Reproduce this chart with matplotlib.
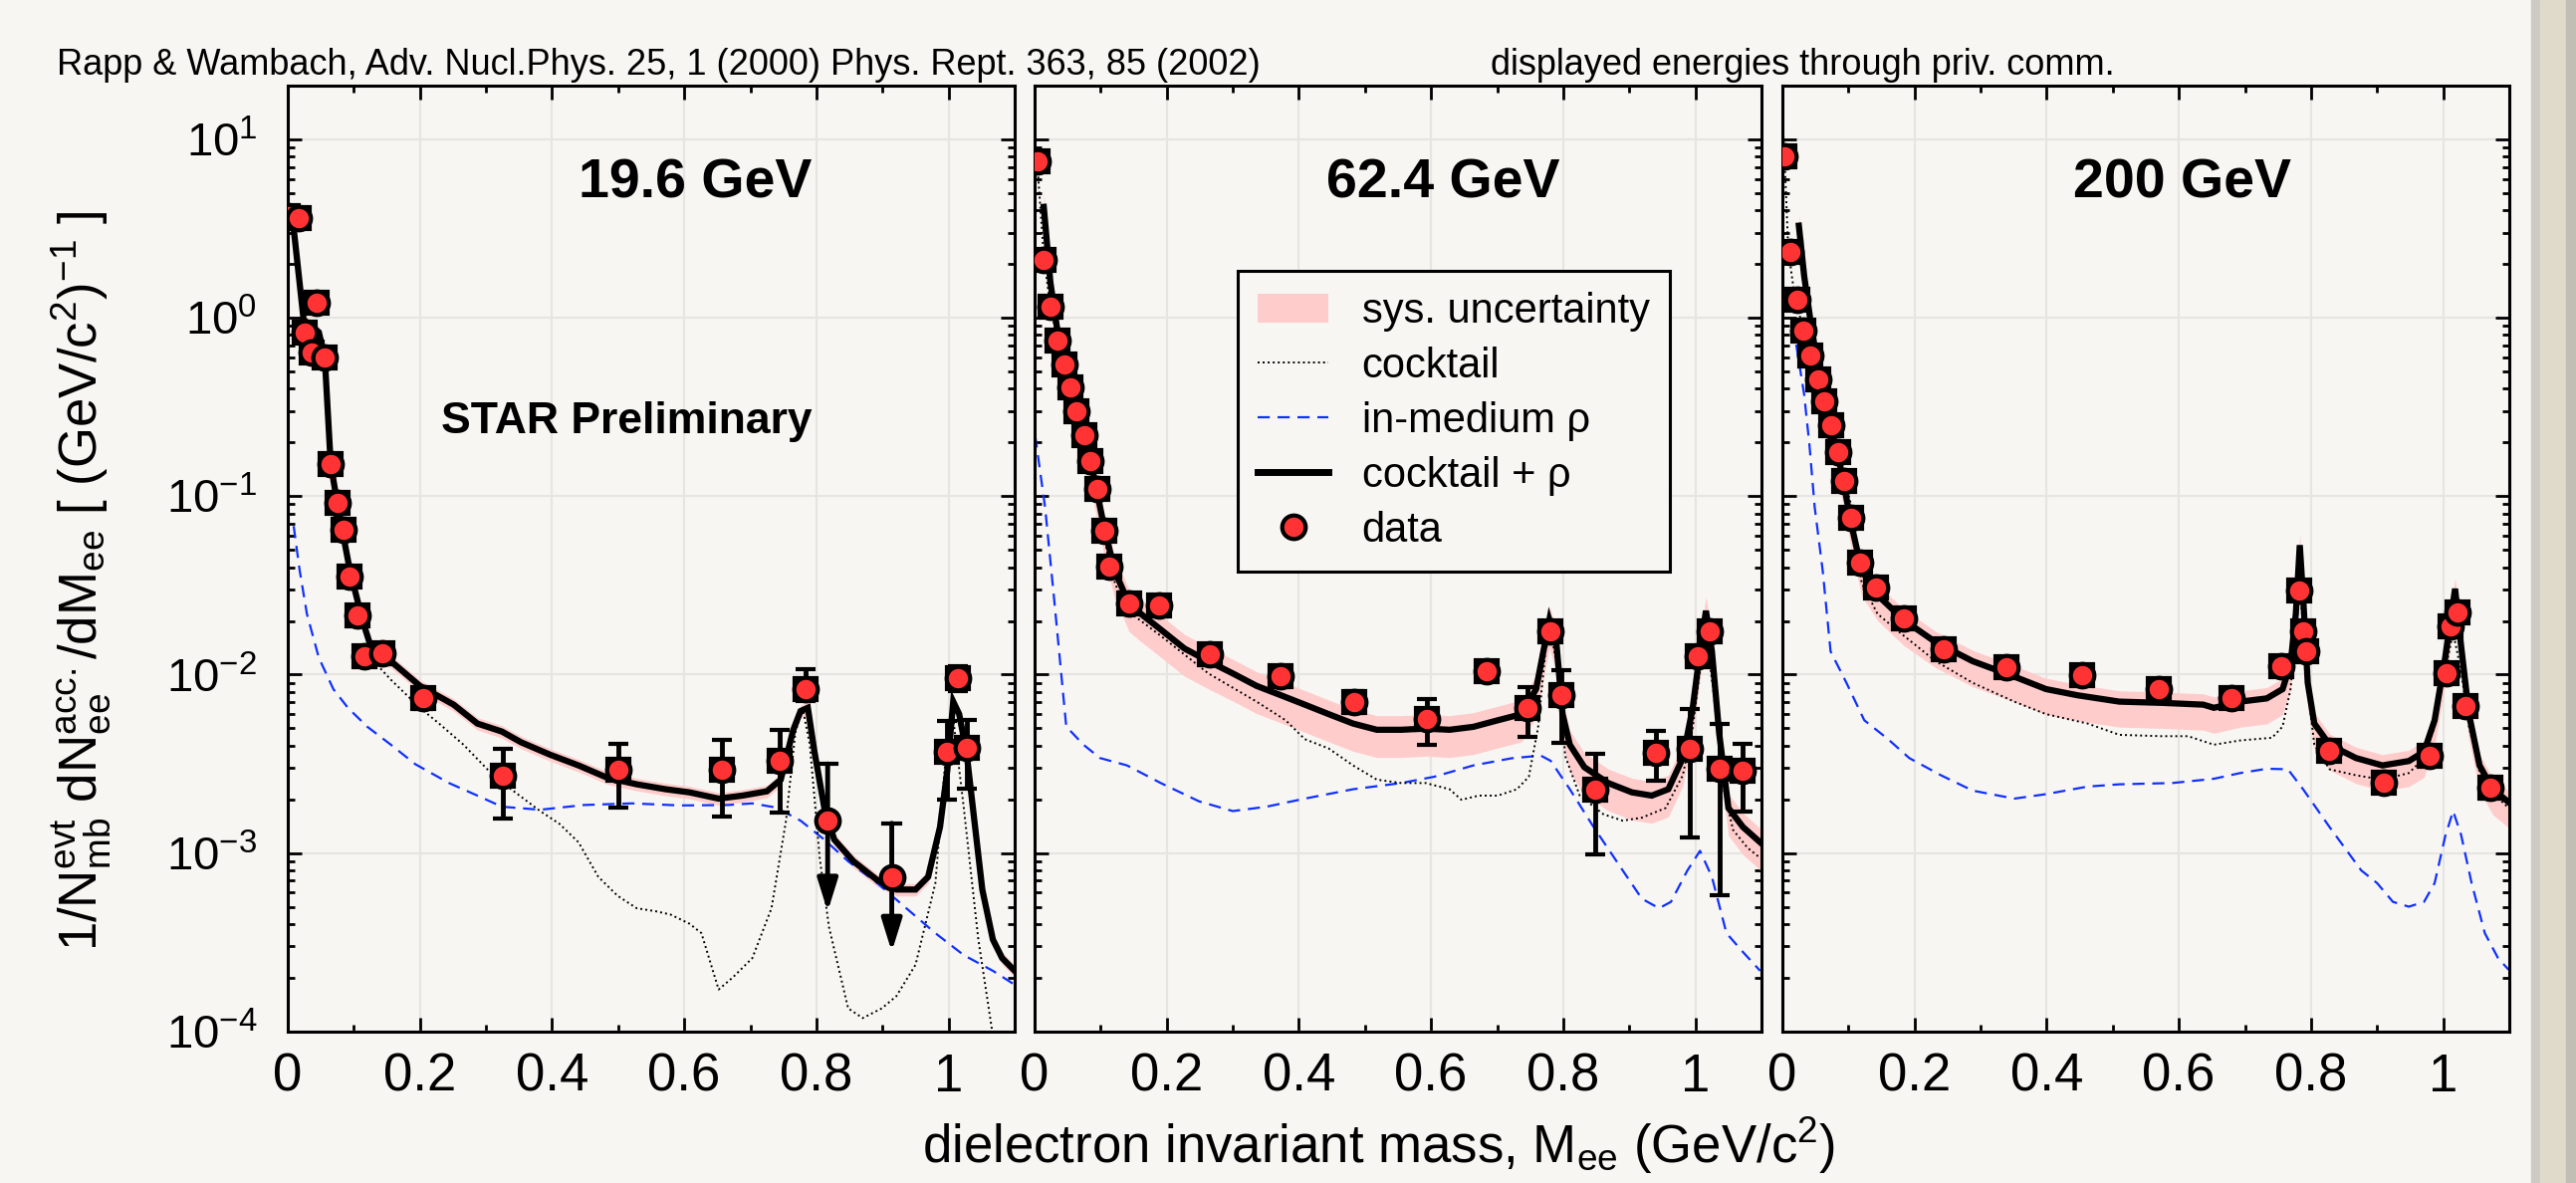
import matplotlib
matplotlib.use('Agg')
import matplotlib.pyplot as plt
import numpy as np
from matplotlib.lines import Line2D
from matplotlib.patches import Patch, Rectangle
from matplotlib.ticker import LogLocator, NullFormatter, MultipleLocator

plt.rcParams['font.family'] = ['Liberation Sans', 'DejaVu Sans']
plt.rcParams['mathtext.fontset'] = 'custom'
plt.rcParams['mathtext.rm'] = 'Liberation Sans'
plt.rcParams['mathtext.it'] = 'Liberation Sans:italic'
plt.rcParams['mathtext.bf'] = 'Liberation Sans:bold'
plt.rcParams['axes.unicode_minus'] = False

BG = '#f7f6f2'
RED = '#ff3333'
PINK = '#ffcccc'

energies = ['19.6 GeV', '62.4 GeV', '200 GeV']

# ---------------- 19.6 GeV ----------------
m19_data = [0.0, 0.016, 0.025, 0.036, 0.043, 0.056, 0.065, 0.075, 0.085, 0.094, 0.105,
            0.116, 0.143, 0.205, 0.325, 0.50, 0.657, 0.744, 0.784, 0.998, 1.014, 1.028]
y19_data = [3.70, 3.64, 0.83, 0.64, 1.21, 0.60, 0.152, 0.0915, 0.0647, 0.0356, 0.0214,
            0.0127, 0.0131, 0.00736, 0.0027, 0.00295, 0.00293, 0.00328, 0.0083, 0.0037, 0.0096, 0.0039]
e19_lo = [0.3, 0.3, 0.07, 0.06, 0.12, 0.06, 0.015, 0.009, 0.006, 0.004, 0.0025,
          0.0015, 0.0015, 0.0009, 0.00114, 0.00115, 0.00133, 0.0016, 0.0012, 0.0017, 0.0015, 0.0016]
e19_hi = [0.3, 0.3, 0.07, 0.06, 0.12, 0.06, 0.015, 0.009, 0.006, 0.004, 0.0025,
          0.0015, 0.0015, 0.0009, 0.00116, 0.00115, 0.00137, 0.0016, 0.0025, 0.0018, 0.0015, 0.0017]
# upper limits (arrows)
m19_ul = [0.817, 0.914]
y19_ul = [0.00153, 0.000736]
top19_ul = [0.00316, 0.00147]
tip19_ul = [0.00047, 0.00028]

m19_sum = [0.007, 0.024, 0.047, 0.056, 0.065, 0.076, 0.094, 0.113, 0.131, 0.156,
           0.200, 0.251, 0.287, 0.324, 0.353, 0.397, 0.440, 0.484, 0.528, 0.572,
           0.608, 0.652, 0.688, 0.725, 0.746, 0.765, 0.776, 0.787, 0.797, 0.812,
           0.827, 0.856, 0.892, 0.921, 0.950, 0.969, 0.987, 0.998, 1.007, 1.016,
           1.027, 1.039, 1.051, 1.067, 1.081, 1.100]
y19_sum = [3.70, 0.975, 0.83, 0.60, 0.152, 0.0865, 0.0385, 0.0202, 0.01245, 0.0119,
           0.00865, 0.00679, 0.00532, 0.0048, 0.00418, 0.00356, 0.0031, 0.00264, 0.00243, 0.00228,
           0.00219, 0.00202, 0.0021, 0.00222, 0.00258, 0.00491, 0.00625, 0.00652, 0.0037, 0.00179,
           0.00119, 0.0009, 0.000706, 0.000625, 0.000625, 0.000736, 0.0014, 0.0029, 0.00706, 0.00601,
           0.0037, 0.00152, 0.000625, 0.000328, 0.000258, 0.000219]

m19_cock = [0.007, 0.024, 0.047, 0.056, 0.065, 0.076, 0.094, 0.113, 0.131, 0.156,
            0.200, 0.229, 0.266, 0.302, 0.338, 0.382, 0.411, 0.440, 0.470, 0.499,
            0.528, 0.557, 0.579, 0.608, 0.626, 0.652, 0.674, 0.703, 0.732, 0.754,
            0.768, 0.779, 0.790, 0.805, 0.819, 0.848, 0.870, 0.899, 0.921, 0.950,
            0.980, 0.994, 1.005, 1.023, 1.045, 1.070]
y19_cock = [3.70, 0.975, 0.83, 0.60, 0.152, 0.0865, 0.0385, 0.0202, 0.0118, 0.00937,
            0.00652, 0.00532, 0.00405, 0.00295, 0.00228, 0.00172, 0.00146, 0.00115, 0.000736, 0.000577,
            0.000491, 0.000472, 0.000453, 0.000402, 0.000356, 0.000172, 0.000202, 0.000258, 0.000491, 0.00152,
            0.00472, 0.00652, 0.00405, 0.000938, 0.000385, 0.000135, 0.000119, 0.000135, 0.000158, 0.000237,
            0.000679, 0.00295, 0.00652, 0.00179, 0.000328, 0.00008]

m19_rho = [0.009, 0.018, 0.029, 0.047, 0.069, 0.091, 0.120, 0.156, 0.193, 0.244,
           0.287, 0.324, 0.382, 0.448, 0.521, 0.593, 0.666, 0.703, 0.739, 0.776,
           0.812, 0.848, 0.892, 0.936, 0.980, 1.023, 1.067, 1.100]
y19_rho = [0.068, 0.0385, 0.0219, 0.01245, 0.0083, 0.00652, 0.00512, 0.00405, 0.00315, 0.00247,
           0.0021, 0.00182, 0.00175, 0.00186, 0.0019, 0.00185, 0.00186, 0.0019, 0.0018, 0.00152,
           0.00119, 0.0009, 0.000679, 0.000491, 0.000356, 0.000268, 0.000219, 0.000183]
sys19 = (0.92, 1.08)

# ---------------- 62.4 GeV ----------------
m62_data = [0.004, 0.014, 0.024, 0.035, 0.045, 0.054, 0.064, 0.075, 0.085, 0.095,
            0.105, 0.113, 0.143, 0.188, 0.265, 0.373, 0.484, 0.593, 0.684, 0.746,
            0.781, 0.797, 0.848, 0.940, 0.991, 1.004, 1.021, 1.037, 1.071]
y62_data = [7.5, 2.12, 1.15, 0.748, 0.546, 0.408, 0.300, 0.221, 0.158, 0.110,
            0.0641, 0.0405, 0.0251, 0.0243, 0.01295, 0.00975, 0.00706, 0.00564, 0.0105, 0.00647,
            0.01746, 0.00766, 0.00228, 0.00364, 0.00382, 0.01274, 0.01746, 0.00298, 0.0029]
e62_lo = [0.8, 0.2, 0.1, 0.06, 0.045, 0.035, 0.025, 0.018, 0.013, 0.009,
          0.0055, 0.0035, 0.003, 0.003, 0.0015, 0.0012, 0.001, 0.0016, 0.0013, 0.002,
          0.002, 0.0035, 0.0013, 0.0011, 0.0026, 0.0015, 0.002, 0.0024, 0.0012]
e62_hi = [0.8, 0.2, 0.1, 0.06, 0.045, 0.035, 0.025, 0.018, 0.013, 0.009,
          0.0055, 0.0035, 0.003, 0.003, 0.0015, 0.0012, 0.001, 0.0017, 0.0013, 0.002,
          0.002, 0.0029, 0.0013, 0.0012, 0.0026, 0.0015, 0.002, 0.0023, 0.0012]

m62_sum = [0.014, 0.024, 0.035, 0.045, 0.064, 0.085, 0.105, 0.121, 0.143, 0.161,
           0.191, 0.227, 0.263, 0.300, 0.336, 0.373, 0.409, 0.445, 0.482, 0.518,
           0.555, 0.592, 0.628, 0.664, 0.701, 0.737, 0.759, 0.770, 0.779, 0.790,
           0.799, 0.810, 0.832, 0.868, 0.904, 0.934, 0.959, 0.981, 0.996, 1.007,
           1.016, 1.025, 1.036, 1.050, 1.072, 1.098]
y62_sum = [4.18, 1.58, 0.83, 0.55, 0.30, 0.158, 0.068, 0.0385, 0.0249, 0.0219,
           0.0179, 0.014, 0.0119, 0.01016, 0.00865, 0.00766, 0.00679, 0.00601, 0.00532, 0.00491,
           0.00491, 0.00499, 0.00491, 0.0051, 0.00555, 0.00601, 0.0083, 0.0135, 0.0202, 0.0146,
           0.00601, 0.00405, 0.00303, 0.00247, 0.00219, 0.0021, 0.00228, 0.00341, 0.00652, 0.0135,
           0.0228, 0.0135, 0.0047, 0.00179, 0.0014, 0.00115]

m62_cock = [0.004, 0.014, 0.024, 0.035, 0.045, 0.064, 0.085, 0.105, 0.113, 0.125,
            0.147, 0.191, 0.263, 0.336, 0.380, 0.409, 0.445, 0.482, 0.518, 0.555,
            0.592, 0.628, 0.646, 0.672, 0.701, 0.730, 0.748, 0.762, 0.773, 0.781,
            0.792, 0.803, 0.825, 0.861, 0.890, 0.919, 0.955, 0.981, 0.996, 1.007,
            1.016, 1.028, 1.043, 1.057, 1.079, 1.098]
y62_cock = [7.5, 2.2, 1.15, 0.75, 0.546, 0.30, 0.158, 0.064, 0.0405, 0.0303,
            0.0219, 0.0165, 0.01016, 0.00706, 0.00555, 0.00435, 0.00386, 0.0031, 0.00258, 0.00247,
            0.00247, 0.00228, 0.00199, 0.0021, 0.0021, 0.00228, 0.00268, 0.00506, 0.0135, 0.0173,
            0.0107, 0.0035, 0.0021, 0.00165, 0.00152, 0.00158, 0.00179, 0.00273, 0.00506, 0.0107,
            0.0173, 0.00766, 0.00228, 0.00135, 0.00107, 0.00094]

m62_rho = [0.001, 0.016, 0.030, 0.048, 0.074, 0.099, 0.140, 0.191, 0.249, 0.300,
           0.351, 0.409, 0.482, 0.555, 0.605, 0.664, 0.722, 0.766, 0.781, 0.810,
           0.846, 0.890, 0.919, 0.945, 0.963, 0.988, 1.007, 1.025, 1.047, 1.072, 1.098]
y62_rho = [0.219, 0.0865, 0.0258, 0.00512, 0.00405, 0.00341, 0.0031, 0.00247, 0.00195, 0.00172,
           0.00182, 0.00202, 0.00228, 0.00247, 0.00268, 0.0031, 0.0034, 0.00352, 0.00329, 0.00228,
           0.0014, 0.0008, 0.000555, 0.000491, 0.000533, 0.0008, 0.00103, 0.000736, 0.000356, 0.000279,
           0.000219]
sys62 = (0.70, 1.20)

# ---------------- 200 GeV ----------------
m200_data = [0.003, 0.012, 0.023, 0.032, 0.043, 0.054, 0.064, 0.074, 0.084, 0.093,
             0.104, 0.117, 0.141, 0.184, 0.244, 0.339, 0.453, 0.570, 0.680, 0.755,
             0.782, 0.788, 0.792, 0.827, 0.910, 0.979, 1.005, 1.011, 1.021, 1.033, 1.071]
y200_data = [7.98, 2.33, 1.26, 0.851, 0.611, 0.453, 0.339, 0.249, 0.176, 0.121,
             0.076, 0.0422, 0.0308, 0.0207, 0.0138, 0.011, 0.0099, 0.0083, 0.00736, 0.0112,
             0.0295, 0.01746, 0.0135, 0.00376, 0.00247, 0.0035, 0.01016, 0.0186, 0.0224, 0.00668, 0.00233]
e200 = [0.7, 0.2, 0.1, 0.07, 0.05, 0.035, 0.027, 0.02, 0.014, 0.01,
        0.006, 0.0035, 0.0025, 0.0017, 0.0012, 0.001, 0.0009, 0.0008, 0.0008, 0.001,
        0.0025, 0.0015, 0.0012, 0.0004, 0.0003, 0.0004, 0.001, 0.0017, 0.002, 0.0007, 0.0003]

m200_sum = [0.025, 0.033, 0.045, 0.057, 0.073, 0.089, 0.105, 0.120, 0.144, 0.184,
            0.232, 0.288, 0.351, 0.399, 0.447, 0.510, 0.574, 0.637, 0.653, 0.693,
            0.733, 0.757, 0.769, 0.777, 0.783, 0.789, 0.795, 0.805, 0.828, 0.868,
            0.908, 0.948, 0.971, 0.987, 1.003, 1.018, 1.027, 1.039, 1.055, 1.075, 1.099]
y200_sum = [3.28, 1.72, 0.83, 0.472, 0.247, 0.140, 0.068, 0.0385, 0.0279, 0.0202,
            0.0152, 0.0119, 0.00975, 0.0083, 0.00766, 0.00706, 0.00695, 0.00679, 0.00652, 0.00706,
            0.00736, 0.0083, 0.01148, 0.0219, 0.0532, 0.0236, 0.009, 0.00532, 0.00405, 0.00341,
            0.0031, 0.00328, 0.0037, 0.00555, 0.01245, 0.0303, 0.0146, 0.00601, 0.0031, 0.00228, 0.00193]

m200_cock = [0.001, 0.004, 0.009, 0.017, 0.033, 0.057, 0.081, 0.105, 0.120, 0.144,
             0.184, 0.232, 0.288, 0.351, 0.399, 0.462, 0.510, 0.574, 0.614, 0.653,
             0.693, 0.741, 0.757, 0.769, 0.777, 0.783, 0.789, 0.795, 0.805, 0.828,
             0.868, 0.908, 0.948, 0.971, 0.987, 1.003, 1.015, 1.027, 1.039, 1.059, 1.099]
y200_cock = [11.9, 6.8, 2.4, 1.46, 0.798, 0.385, 0.194, 0.0865, 0.0328, 0.0219,
             0.0165, 0.0119, 0.009, 0.00706, 0.00601, 0.00532, 0.0046, 0.00452, 0.00452, 0.00405,
             0.00428, 0.00443, 0.00512, 0.0083, 0.0173, 0.0303, 0.0173, 0.0083, 0.00405, 0.00295,
             0.00273, 0.00258, 0.00281, 0.00341, 0.00512, 0.0105, 0.0173, 0.0105, 0.00512, 0.00247, 0.00179]

m200_rho = [0.021, 0.033, 0.041, 0.049, 0.061, 0.073, 0.097, 0.124, 0.160, 0.192,
            0.240, 0.288, 0.351, 0.399, 0.462, 0.510, 0.590, 0.653, 0.693, 0.733,
            0.765, 0.788, 0.828, 0.876, 0.900, 0.924, 0.948, 0.971, 0.987, 1.003,
            1.015, 1.027, 1.043, 1.063, 1.083, 1.099]
y200_rho = [0.707, 0.372, 0.194, 0.0865, 0.0385, 0.0135, 0.009, 0.00555, 0.00435, 0.00341,
            0.00273, 0.00224, 0.00202, 0.00214, 0.00236, 0.00243, 0.00247, 0.00261, 0.00281, 0.00297,
            0.00295, 0.00228, 0.0014, 0.0008, 0.000679, 0.000533, 0.000501, 0.000533, 0.000679, 0.00124,
            0.00172, 0.00127, 0.000679, 0.000356, 0.000258, 0.000222]
sys200 = (0.72, 1.15)

panels = [
    dict(title=energies[0], title_x=0.561, md=m19_data, yd=y19_data, elo=e19_lo, ehi=e19_hi,
         ms=m19_sum, ys=y19_sum, mc=m19_cock, yc=y19_cock, mr=m19_rho, yr=y19_rho, sys=sys19),
    dict(title=energies[1], title_x=0.562, md=m62_data, yd=y62_data, elo=e62_lo, ehi=e62_hi,
         ms=m62_sum, ys=y62_sum, mc=m62_cock, yc=y62_cock, mr=m62_rho, yr=y62_rho, sys=sys62),
    dict(title=energies[2], title_x=0.550, md=m200_data, yd=y200_data, elo=e200, ehi=e200,
         ms=m200_sum, ys=y200_sum, mc=m200_cock, yc=y200_cock, mr=m200_rho, yr=y200_rho, sys=sys200),
]

MS = 17     # data marker size
MEW = 3.0

fig = plt.figure(figsize=(25.87, 11.88), dpi=100, facecolor=BG)

# window scroll bar strip on the right
fig.patches.append(Rectangle((0.9826, 0), 0.0035, 1, transform=fig.transFigure, color='#cdcac3', zorder=0))
fig.patches.append(Rectangle((0.9861, 0), 0.0100, 1, transform=fig.transFigure, color='#e0dacb', zorder=0))
fig.patches.append(Rectangle((0.9961, 0), 0.0039, 1, transform=fig.transFigure, color='#c1beb6', zorder=0))

lefts = [0.1117, 0.4016, 0.6919]
axes = []
for i, p in enumerate(panels):
    ax = fig.add_axes([lefts[i], 0.128, 0.2822, 0.7997], facecolor=BG)
    axes.append(ax)
    ax.set_yscale('log')
    ax.set_xlim(0, 1.1)
    ax.set_ylim(1e-4, 20)

    lo, hi = p['sys']
    ys = np.array(p['ys'])
    ax.fill_between(p['ms'], ys * lo, ys * hi, color=PINK, lw=0, zorder=1)
    ax.plot(p['mr'], p['yr'], color='#1030ff', lw=1.6, ls=(0, (5.5, 3.5)), zorder=2)
    ax.plot(p['mc'], p['yc'], color='k', lw=1.4, ls=(0, (1, 1.6)), zorder=2)
    ax.plot(p['ms'], p['ys'], color='k', lw=4.5, zorder=3, solid_joinstyle='miter')

    # sys boxes, stat errors, markers
    ax.plot(p['md'], p['yd'], ls='none', marker='s', ms=16, mfc='none', mec='k', mew=3, zorder=4)
    ax.errorbar(p['md'], p['yd'], yerr=[p['elo'], p['ehi']], fmt='none', ecolor='k',
                elinewidth=3.5, capsize=7, capthick=3, zorder=4)
    ax.plot(p['md'], p['yd'], ls='none', marker='o', ms=MS, mfc=RED, mec='k', mew=MEW, zorder=5)

    ax.text(p['title_x'], 0.881, p['title'], transform=ax.transAxes, ha='center', va='baseline',
            fontsize=40, fontweight='bold')

    ax.set_xticks([0, 0.2, 0.4, 0.6, 0.8, 1.0])
    ax.set_xticklabels(['0', '0.2', '0.4', '0.6', '0.8', '1'])
    ax.xaxis.set_minor_locator(MultipleLocator(0.1))
    ax.yaxis.set_major_locator(LogLocator(base=10, numticks=10))
    ax.yaxis.set_minor_locator(LogLocator(base=10, subs=np.arange(2, 10), numticks=20))
    ax.yaxis.set_minor_formatter(NullFormatter())
    ax.grid(True, which='major', color='#e6e5e2', lw=1.6)
    ax.set_axisbelow(True)
    ax.tick_params(which='both', direction='in', top=True, right=True, width=2, color='k')
    ax.tick_params(which='major', length=10)
    ax.tick_params(which='minor', length=5)
    ax.tick_params(axis='x', labelsize=38, pad=15)
    ax.tick_params(axis='y', labelsize=34, pad=22)
    if i > 0:
        ax.tick_params(axis='y', labelleft=False)
    for s in ax.spines.values():
        s.set_linewidth(2.2)

# upper limits in the 19.6 GeV panel
ax = axes[0]
for m, y, top, tip in zip(m19_ul, y19_ul, top19_ul, tip19_ul):
    ax.annotate('', xy=(m, tip), xytext=(m, top),
                arrowprops=dict(arrowstyle='-|>,head_width=0.28,head_length=0.9',
                                color='k', lw=3.5, mutation_scale=22, shrinkA=0, shrinkB=0),
                zorder=4)
    ax.plot([m - 0.013, m + 0.013], [top, top], color='k', lw=3, zorder=4)
    ax.plot([m], [y], ls='none', marker='o', ms=MS, mfc=RED, mec='k', mew=MEW, zorder=5)

ax.text(0.466, 0.633, 'STAR Preliminary', transform=ax.transAxes, ha='center', va='baseline',
        fontsize=32, fontweight='bold')

# legend in the middle panel
handles = [Patch(facecolor=PINK, edgecolor='none'),
           Line2D([], [], color='k', lw=1.4, ls=(0, (1, 1.6))),
           Line2D([], [], color='#1030ff', lw=1.6, ls=(0, (5.5, 3.5))),
           Line2D([], [], color='k', lw=5),
           Line2D([], [], ls='none', marker='o', ms=MS, mfc=RED, mec='k', mew=MEW)]
labels = ['sys. uncertainty', 'cocktail', 'in-medium ρ', 'cocktail + ρ', 'data']
leg = axes[1].legend(handles, labels, loc='upper left', bbox_to_anchor=(0.279, 0.804),
                     fontsize=30, frameon=True, fancybox=False, edgecolor='k', facecolor=BG,
                     framealpha=1, handlelength=1.7, handletextpad=0.8, labelspacing=0.36,
                     borderpad=0.5, borderaxespad=0)
leg.get_frame().set_linewidth(2.2)

fig.text(0.022, 0.9369, 'Rapp & Wambach, Adv. Nucl.Phys. 25, 1 (2000) Phys. Rept. 363, 85 (2002)',
         fontsize=26, va='baseline', ha='left')
fig.text(0.5787, 0.9369, 'displayed energies through priv. comm.', fontsize=26, va='baseline', ha='left')

fig.text(0.0313, 0.509,
         r'1/N$_{\mathregular{mb}}^{\mathregular{evt}}$ dN$_{\mathregular{ee}}^{\mathregular{acc.}}$'
         r'/dM$_{\mathregular{ee}}$ [ (GeV/c$^{\mathregular{2}}$)$^{\mathregular{-1}}$ ]',
         rotation=90, fontsize=38, ha='center', va='center')
fig.text(0.358, 0.017, r'dielectron invariant mass, M$_{\mathregular{ee}}$ (GeV/c$^{\mathregular{2}}$)',
         fontsize=38, ha='left', va='baseline')

fig.savefig('out.png', dpi=100, facecolor=BG)
